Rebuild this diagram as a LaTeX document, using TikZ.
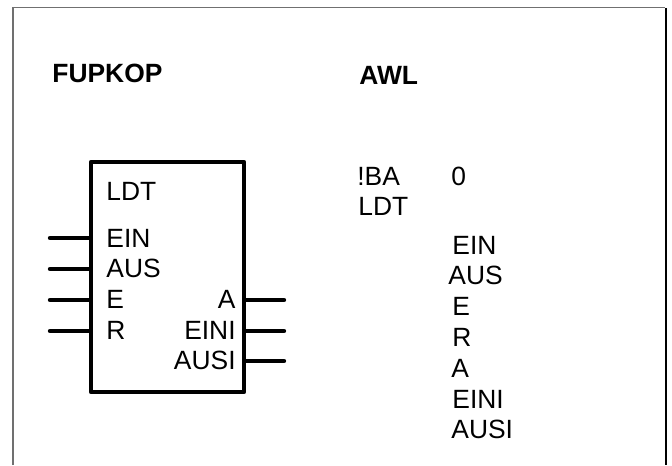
\documentclass[tikz,border=0pt]{standalone}
\usepackage{fontspec}
\setmainfont{Liberation Sans}
\definecolor{framegray}{RGB}{112,112,112}

\begin{document}
\begin{tikzpicture}[x=0.5pt,y=-0.5pt,
 lbl/.style={font=\fontsize{13.2}{15}\selectfont,inner sep=0pt},
 head/.style={inner sep=0pt,font=\fontsize{13.2}{15}\selectfont\bfseries},
 pin/.style={line width=2.2pt,line cap=round}]
\useasboundingbox (0,0) rectangle (672,465);
\draw[framegray,line width=0.75pt] (13,465)--(13,7.5)--(665,7.5);
\draw[line width=0.75pt] (666,8)--(666,465);
\node[head,anchor=base west] (fupkop) at (52,83) {FUPKOP};
\node[head,anchor=base west] (awl) at (359,84) {AWL};
% function block
\node[draw,line width=2.2pt,line join=round,minimum width=76.5pt,minimum height=115pt,inner sep=0pt] (ldt) at (167.5,277) {};
\coordinate (ein) at (50,238);
\coordinate (aus) at (50,269);
\coordinate (e) at (50,300);
\coordinate (r) at (50,331);
\coordinate (a) at (284,300);
\coordinate (eini) at (284,331);
\coordinate (ausi) at (284,361);
\draw[pin] (ein) -- (ein -| ldt.west);
\draw[pin] (aus) -- (aus -| ldt.west);
\draw[pin] (e) -- (e -| ldt.west);
\draw[pin] (r) -- (r -| ldt.west);
\draw[pin] (ldt.east |- a) -- (a);
\draw[pin] (ldt.east |- eini) -- (eini);
\draw[pin] (ldt.east |- ausi) -- (ausi);
\node[lbl,anchor=base west] (ldtname) at (106,200) {LDT};
\node[lbl,anchor=base west] (einlbl) at (106,247) {EIN};
\node[lbl,anchor=base west] (auslbl) at (106,277) {AUS};
\node[lbl,anchor=base west] (elbl) at (106,308) {E};
\node[lbl,anchor=base west] (rlbl) at (106,339) {R};
\node[lbl,anchor=base east] (albl) at (236,308) {A};
\node[lbl,anchor=base east] (einilbl) at (236,339) {EINI};
\node[lbl,anchor=base east] (ausilbl) at (236,369) {AUSI};
% statement list
\node[lbl,anchor=base west] (awlba) at (357,185) {!BA};
\node[lbl,anchor=base west] (awlnull) at (451,185) {0};
\node[lbl,anchor=base west] (awlldt) at (358,215) {LDT};
\node[lbl,anchor=base west] (awlein) at (452,254) {EIN};
\node[lbl,anchor=base west] (awlaus) at (448,284) {AUS};
\node[lbl,anchor=base west] (awle) at (452,315) {E};
\node[lbl,anchor=base west] (awlr) at (452,346) {R};
\node[lbl,anchor=base west] (awla) at (451,377) {A};
\node[lbl,anchor=base west] (awleini) at (452,408) {EINI};
\node[lbl,anchor=base west] (awlausi) at (451,438) {AUSI};
\end{tikzpicture}
\end{document}
